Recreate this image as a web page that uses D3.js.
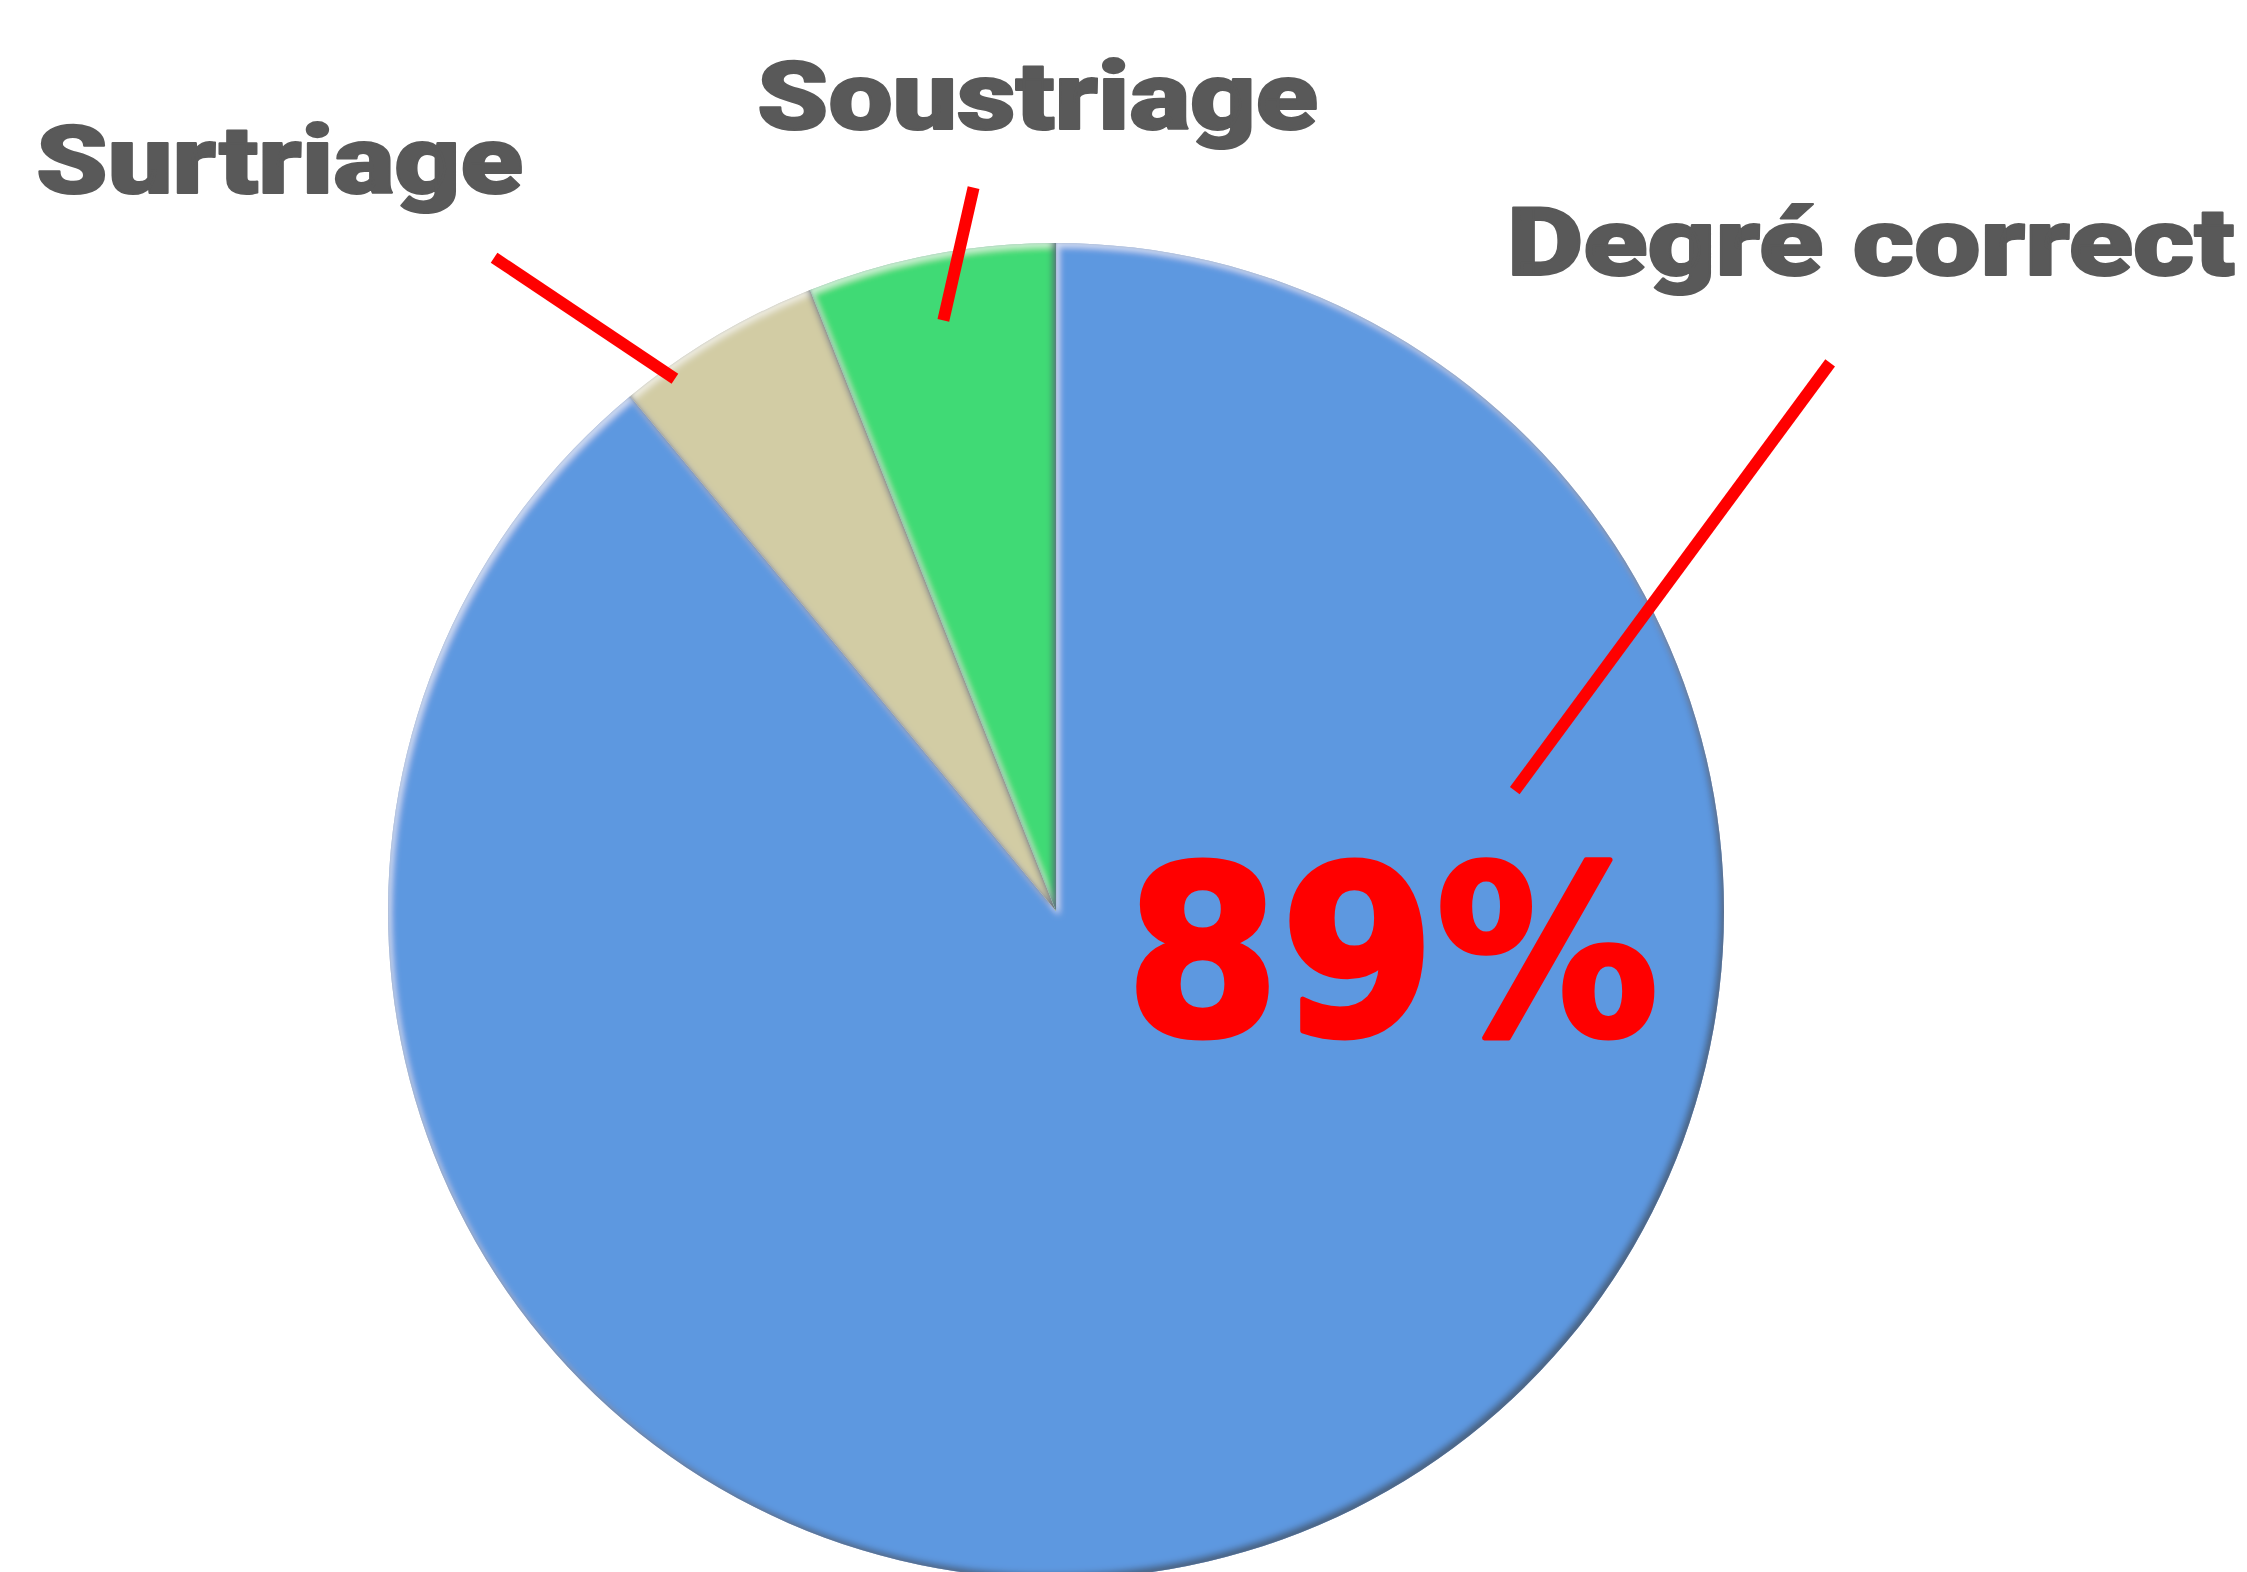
<!DOCTYPE html>
<html>
<head>
<meta charset="utf-8">
<script src="https://cdn.jsdelivr.net/npm/d3@7"></script>
<style>
  body { margin: 0; background: #fff; }
  svg { display: block; }
  .label { font-family: Roboto, "Liberation Sans", sans-serif; font-weight: 900; fill: #595959; stroke: #595959; stroke-linejoin: round; }
  .big { font-family: "DejaVu Sans", "Liberation Sans", sans-serif; font-weight: bold; fill: #ff0000; stroke: #ff0000; stroke-linejoin: round; }
</style>
</head>
<body>
<div id="chart"></div>
<script>
// data
var categories = ["Degré correct", "Surtriage", "Soustriage"];
var shares = [89, 5, 6];
var sliceColors = ["#5d98e0", "#d2cca4", "#41da75"];
var bigValue = "89%";

// leader lines: [angle in degrees clockwise from 12 o'clock, radius factor]
var leaderInner = [[75.3, 0.71], [-35.6, 0.98], [-10.8, 0.90]];
var leaderOuter = [[54.7, 1.42], [-40.7, 1.29], [-6.5, 1.09]];

// label boxes: left x, baseline y, width
var labelBoxes = [[1507, 275, 728], [36, 193, 487], [757, 129, 561]];

var svgWidth = 2247, svgHeight = 1572;
var cx = 1056, cy = 911, radius = 668;

var svg = d3.select("#chart")
  .append("svg")
  .attr("width", svgWidth)
  .attr("height", svgHeight);

svg.append("rect")
  .attr("width", svgWidth)
  .attr("height", svgHeight)
  .attr("fill", "#fff");

// bevel filter: light inner edge top-left, dark inner edge bottom-right, thin dark rim
var defs = svg.append("defs");
var f = defs.append("filter").attr("id", "bevel")
  .attr("x", "-10%").attr("y", "-10%").attr("width", "120%").attr("height", "120%");
f.append("feFlood").attr("flood-color", "#000").attr("result", "black");
f.append("feComposite").attr("in", "black").attr("in2", "SourceAlpha").attr("operator", "out").attr("result", "outside");
f.append("feGaussianBlur").attr("in", "outside").attr("stdDeviation", 3).attr("result", "outBlur");
f.append("feGaussianBlur").attr("in", "outside").attr("stdDeviation", 1.2).attr("result", "rimBlur");
// dark side
f.append("feOffset").attr("in", "outBlur").attr("dx", -4).attr("dy", -5).attr("result", "darkOff");
f.append("feComposite").attr("in", "darkOff").attr("in2", "SourceAlpha").attr("operator", "in").attr("result", "darkIn");
f.append("feColorMatrix").attr("in", "darkIn").attr("type", "matrix")
  .attr("values", "0 0 0 0 0.06  0 0 0 0 0.1  0 0 0 0 0.16  0 0 0 0.9 0").attr("result", "dark");
// light side
f.append("feOffset").attr("in", "outBlur").attr("dx", 3).attr("dy", 4).attr("result", "lightOff");
f.append("feComposite").attr("in", "lightOff").attr("in2", "SourceAlpha").attr("operator", "in").attr("result", "lightIn");
f.append("feColorMatrix").attr("in", "lightIn").attr("type", "matrix")
  .attr("values", "0 0 0 0 1  0 0 0 0 1  0 0 0 0 1  0 0 0 0.6 0").attr("result", "light");
// thin rim
f.append("feComposite").attr("in", "rimBlur").attr("in2", "SourceAlpha").attr("operator", "in").attr("result", "rimIn");
f.append("feColorMatrix").attr("in", "rimIn").attr("type", "matrix")
  .attr("values", "0 0 0 0 0.15  0 0 0 0 0.2  0 0 0 0 0.3  0 0 0 0.5 0").attr("result", "rim");
var merge = f.append("feMerge");
merge.append("feMergeNode").attr("in", "SourceGraphic");
merge.append("feMergeNode").attr("in", "light");
merge.append("feMergeNode").attr("in", "dark");
merge.append("feMergeNode").attr("in", "rim");

var chartGroup = svg.append("g")
  .attr("transform", `translate(${cx}, ${cy})`);

var pie = d3.pie().sort(null).value(d => d);
var arc = d3.arc().innerRadius(0).outerRadius(radius);

chartGroup.selectAll("path.slice")
  .data(pie(shares))
  .enter()
  .append("path")
  .attr("class", "slice")
  .attr("d", arc)
  .attr("fill", (d, i) => sliceColors[i])
  .attr("filter", "url(#bevel)");

// polar helper
function polar(p) {
  var a = p[0] * Math.PI / 180;
  return [Math.sin(a) * radius * p[1], -Math.cos(a) * radius * p[1]];
}

chartGroup.selectAll("line.leader")
  .data(categories)
  .enter()
  .append("line")
  .attr("class", "leader")
  .attr("x1", (d, i) => polar(leaderInner[i])[0])
  .attr("y1", (d, i) => polar(leaderInner[i])[1])
  .attr("x2", (d, i) => polar(leaderOuter[i])[0])
  .attr("y2", (d, i) => polar(leaderOuter[i])[1])
  .attr("stroke", "#ff0000")
  .attr("stroke-width", 12);

// squeeze text horizontally to a target width, keeping its height
function fitWidth(sel, x, y, w) {
  sel.attr("x", 0).attr("y", 0);
  var natural = sel.node().getComputedTextLength();
  sel.attr("transform", `translate(${x}, ${y}) scale(${w / natural}, 1)`);
}

svg.selectAll("text.label")
  .data(categories)
  .enter()
  .append("text")
  .attr("class", "label")
  .attr("font-size", 94)
  .attr("stroke-width", 2)
  .text(d => d)
  .each(function(d, i) {
    fitWidth(d3.select(this), labelBoxes[i][0], labelBoxes[i][1], labelBoxes[i][2]);
  });

var big = svg.append("text")
  .attr("class", "big")
  .attr("font-size", 236)
  .attr("stroke-width", 5)
  .text(bigValue);
fitWidth(big, 1125, 1035, 534);
</script>
</body>
</html>
